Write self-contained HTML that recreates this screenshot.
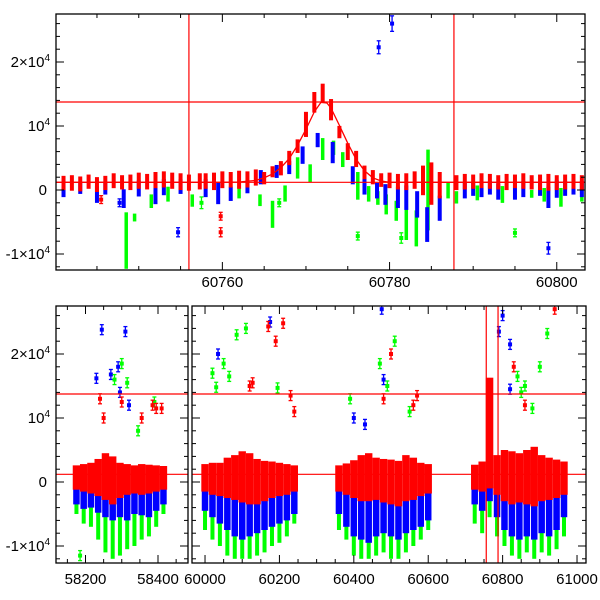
<!DOCTYPE html>
<html><head><meta charset="utf-8">
<style>
html,body{margin:0;padding:0;background:#fff;}
svg{display:block;font-family:"Liberation Sans",sans-serif;}
</style></head>
<body>
<svg id="chart" width="600" height="600" viewBox="0 0 600 600" xmlns="http://www.w3.org/2000/svg">
<defs>
<clipPath id="cTop"><rect x="56" y="14" width="529" height="256"/></clipPath>
<clipPath id="cB1"><rect x="56" y="306" width="132" height="257"/></clipPath>
<clipPath id="cB2"><rect x="192" y="306" width="394" height="257"/></clipPath>
</defs>
<g id="topPanel"></g>
<g id="botPanel"></g>
</svg>
<script>
// ---------- TOP PANEL DATA (nightly streaks: time, low, high) ----------
const topRedT  = [60741,60742,60743,60744,60745,60746,60747,60748,60749,60750,60751,60752,60753,60754,60755,60756,60757.3,60758,60759,60760,60761,60762,60763,60764,60765,60766,60767,60768,60769,60770,60771,60772,60773,60774,60775,60776,60777,60778,60779,60780,60781,60782,60783,60784,60785,60786,60788,60789,60790,60791,60792,60793,60794,60795,60796,60797,60798,60799,60800,60801,60802,60803];
const topRedLo = [300,200,100,500,0,300,600,400,300,500,400,600,700,500,300,200,400,500,300,600,700,500,700,1000,1200,2300,2600,4200,6100,8600,12400,13900,11200,8400,5000,3900,2000,1200,800,600,400,300,500,-500,-2000,-1000,300,400,500,600,500,400,300,600,500,400,300,200,300,400,500,300];
const topRedHi = [1900,2000,1800,2100,1700,1900,2300,2000,2100,2400,2200,2500,2600,2400,2300,2100,2300,2300,2400,2600,2500,2700,2600,2900,2500,3400,4200,5800,7600,11900,15000,16300,13900,9700,7000,5800,3500,2800,2300,2400,2200,2300,2600,3500,4000,2500,2000,2200,2100,2300,2200,2000,2200,2100,2300,2000,2100,2200,2000,2100,2200,2000];
const topBlueT  = [60741,60743,60745,60746,60748.2,60750,60752,60753,60755,60758,60759.5,60761,60763,60764.6,60766.5,60768,60769.6,60771.4,60773.2,60775.6,60777,60778.5,60779.5,60781,60782,60783.3,60784.5,60786,60789,60790,60791,60792,60793,60795,60796,60798,60799,60800,60801,60802,60803];
const topBlueLo = [-800,-300,-1700,-400,-2500,-700,-1900,-500,-300,-800,-1900,-1400,-200,1200,2200,2800,4400,7000,4500,1200,-400,-1000,-2000,-2500,-2800,-4000,-7800,-4500,-1000,-600,-800,-400,-1200,-1200,-800,-600,-2500,-900,-600,-400,-800];
const topBlueHi = [400,800,300,1000,-200,1200,1000,1400,1400,1400,800,200,1200,2800,3600,4200,6500,8600,7200,3400,1500,800,600,200,400,-500,-3000,-1200,800,900,1000,1100,700,1000,1100,900,200,1200,1100,1300,1100];
const topGreenT  = [60748.5,60749.5,60751.5,60753.5,60756.4,60762,60764.5,60766,60767.5,60769,60770.5,60772,60773.3,60774.4,60776.2,60777.5,60778.6,60779.6,60780.8,60782,60783.2,60784.6,60787,60788,60790.5,60793.5,60797,60798.5,60800.5,60803];
const topGreenLo = [-12000,-4600,-2500,-1500,-2300,-1000,-2200,-5600,-1500,2100,1500,5000,5800,3900,-1200,-1500,-2000,-3500,-4500,-7500,-8500,-6000,-1000,-1800,-1300,-1700,-900,-1500,-2300,-1500];
const topGreenHi = [-3800,-4000,-1000,200,-1000,300,-1000,-2000,400,4800,3700,7800,7400,5600,2500,300,-500,-1000,-2000,-2500,-3500,6000,800,-500,400,300,-300,0,0,200];
const topOutT = [60778.7,60780.3,60799,60757.5,60745.5,60747.7,60754.7,60759.8,60759.8,60766.8,60795,60781.4,60776.2];
const topOutV = [22300,26000,-9100,-2000,-1500,-2000,-6600,-6600,-4100,-2000,-6700,-7500,-7200];
const topOutE = [700,900,600,600,300,300,400,400,300,300,300,500,300];
const topOutC = ['blue','blue','blue','green','red','blue','blue','red','red','green','green','green','green'];
const modelT = [60740,60755,60760,60762,60764,60765,60766,60767,60768,60769,60770,60771,60771.8,60772.5,60773,60774,60775,60776,60777,60778,60779,60780,60790,60804];
const modelV = [1200,1200,1200,1250,1500,1900,2500,3500,4900,7000,9500,12200,13700,13600,12800,10100,7300,4800,3000,1900,1400,1200,1200,1200];

// ---------- BOTTOM PANEL DATA (20-day bins) ----------
const binT = [58175,58195,58215,58235,58255,58275,58295,58315,58335,58355,58375,58395,58415,
  60000,60020,60040,60060,60080,60100,60120,60140,60160,60180,60200,60220,60240,
  60360,60380,60400,60420,60440,60460,60480,60500,60520,60540,60560,60580,60600,
  60725,60745,60765,60785,60805,60825,60845,60865,60885,60905,60925,60945,60965];
const redHi = [2600,2800,3000,3600,4500,4000,3000,2800,2600,2800,2700,2600,2500,
  2800,3000,3000,3800,4200,4800,4500,3600,3300,3200,3000,2800,2600,
  2600,2900,3400,4200,4500,3800,3600,3500,3300,4200,3800,3000,2800,
  2700,3200,16300,4200,5000,4800,4500,5000,5500,4200,3800,3500,3200];
const redLo = [-1200,-1500,-1800,-2200,-2800,-3500,-2500,-2000,-1800,-2000,-1800,-1500,-1200,
  -1500,-2000,-2200,-2500,-2800,-3200,-3500,-3500,-3000,-2500,-2200,-2000,-1500,
  -1500,-2000,-2500,-3000,-3000,-2800,-3200,-3500,-3800,-3000,-2800,-2200,-1800,
  -1200,-1500,-1000,-2000,-3000,-3500,-3200,-3500,-3800,-3000,-2800,-2500,-2000];
const blueHi = [500,500,0,500,500,800,500,500,0,500,500,500,500,
  800,500,500,500,800,1000,800,500,500,500,500,500,500,
  500,500,500,800,800,500,500,500,500,500,500,500,500,
  500,500,500,800,500,500,500,500,500,500,500,500,500];
const blueLo = [-3500,-4200,-4000,-4800,-5500,-6000,-5500,-6000,-5000,-5200,-5500,-4500,-3500,
  -4500,-5500,-6500,-7500,-8500,-9000,-8500,-8000,-7500,-7000,-6500,-6000,-5000,
  -5000,-7000,-8500,-9000,-9500,-8500,-8000,-8500,-9000,-8000,-7500,-7000,-6000,
  -3500,-4500,-3000,-5500,-7500,-8500,-9000,-8500,-9000,-8000,-8500,-7500,-5500];
const greenHi = [-2000,-2500,-3000,-3000,-3500,-4000,-3000,-3500,-3500,-3000,-3000,-3000,-2500,
  -3000,-3500,-3500,-4000,-4000,-4500,-4000,-4000,-4000,-3500,-3500,-3000,-3000,
  -3500,-4000,-4500,-4500,-4500,-4000,-4500,-4500,-4500,-4000,-4000,-4000,-3500,
  -2500,-3000,-2000,-3500,-4000,-4500,-4500,-4500,-4500,-4000,-4000,-4000,-3500];
const greenLo = [-5000,-6500,-7000,-9000,-11000,-12000,-11500,-10500,-10000,-9000,-8500,-7000,-5000,
  -7500,-9000,-10000,-11500,-12000,-12000,-12000,-11500,-11000,-10000,-9500,-8500,-6500,
  -7500,-9000,-11500,-12000,-12000,-11500,-11000,-12000,-12000,-11000,-10000,-9000,-7500,
  -6500,-8000,-5500,-8500,-10000,-11500,-12000,-11000,-12000,-11000,-11500,-10500,-8500];
const botOutT = [58230,58245,58270,58290,58310,58295,58320,58280,58300,58315,58390,58345,58240,58250,58300,58355,58385,58395,58410,58185,
  60020,60030,60050,60065,60085,60110,60035,60175,60170,60190,60210,60230,60120,60128,60240,60195,
  60400,60430,60480,60475,60390,60470,60490,60510,60550,60500,60570,60560,60480,
  60790,60800,60820,60820,60840,60860,60900,60920,60850,60880,60830,60940,60860];
const botOutV = [16200,23800,16800,18000,23500,14000,12000,16000,18500,15500,12500,8000,13000,10000,12500,10000,12000,11500,11500,-11500,
  17000,14800,18500,16500,23000,24000,20000,25000,24300,22000,24800,13500,15000,15500,11000,14700,
  10000,9000,16000,27000,13000,18500,15000,22000,11000,20000,13500,12000,13000,
  23500,26000,21500,14500,16500,15000,18000,23200,14000,11500,18000,27000,12000];
const botOutC = ['blue','blue','blue','blue','blue','blue','blue','green','green','green','green','green','red','red','red','red','red','red','red','green',
  'green','green','green','green','green','green','blue','blue','red','red','red','red','red','red','red','green',
  'blue','blue','blue','blue','green','green','green','green','green','red','red','red','red',
  'blue','blue','blue','blue','green','green','green','green','green','green','red','red','red'];

const COL = {red:'#ff0000', blue:'#0000ff', green:'#00ff00'};
const NS = 'http://www.w3.org/2000/svg';
function mk(parent, tag, attrs){ const e=document.createElementNS(NS,tag); for(const k in attrs) e.setAttribute(k,attrs[k]); parent.appendChild(e); return e; }

const X1 = t => 56 + (t - 60740.1) * 8.36;
const Y1 = v => 190 - v * 0.0064;
const XB = t => t < 59000 ? 56 + (t - 58118.6) * 0.3625 : 192 + (t - 59965) * 0.372;
const YB = v => 482 - v * 0.0064;

const topG = document.getElementById('topPanel');
const botG = document.getElementById('botPanel');

function frame(g, x0, x1, y0, y1, Y, xt, name){
  const f = mk(g,'rect',{x:x0,y:y0,width:x1-x0,height:y1-y0,fill:'none',stroke:'#000','stroke-width':1.3});
  
  
  for(let v=-12000; v<=28000; v+=2000){
    const y=Y(v); if(y<y0||y>y1) continue;
    const L = (v%10000===0)?8:4;
    mk(g,'line',{x1:x0,x2:x0+L,y1:y,y2:y,stroke:'#000','stroke-width':1});
    mk(g,'line',{x1:x1-L,x2:x1,y1:y,y2:y,stroke:'#000','stroke-width':1});
  }
  xt.forEach(([x,L])=>{
    if(x<x0||x>x1) return;
    mk(g,'line',{x1:x,x2:x,y1:y1-L,y2:y1,stroke:'#000','stroke-width':1});
    mk(g,'line',{x1:x,x2:x,y1:y0,y2:y0+L,stroke:'#000','stroke-width':1});
  });
}
function ylabels(g, Y){
  const labs=[[20000,'2×10','4'],[10000,'10','4'],[0,'0',''],[-10000,'-1×10','4']];
  labs.forEach(([v,a,s])=>{
    const t = mk(g,'text',{x:50,y:Y(v)+5,'font-size':15,'text-anchor':'end'});
    
    
    t.textContent=a;
    if(s){ const sp=mk(t,'tspan',{'font-size':10,dy:-6}); sp.textContent=s; }
    else { t.setAttribute('x',47); }
  });
}
function errpt(g, x, y, e, c, name){
  const gg = mk(g,'g',{});
  
  
  mk(gg,'line',{x1:x,x2:x,y1:y-e,y2:y+e,stroke:COL[c],'stroke-width':1.3});
  mk(gg,'line',{x1:x-2,x2:x+2,y1:y-e,y2:y-e,stroke:COL[c],'stroke-width':1.3});
  mk(gg,'line',{x1:x-2,x2:x+2,y1:y+e,y2:y+e,stroke:COL[c],'stroke-width':1.3});
  mk(gg,'rect',{x:x-2,y:y-2,width:4,height:4,fill:COL[c]});
}

// ---------- TOP PANEL ----------
const tc = mk(topG,'g',{'clip-path':'url(#cTop)'});
function streaks(g, T, LO, HI, c, X, Y, w, name){
  T.forEach((t,i)=>{
    const y1=Y(HI[i]), y2=Y(LO[i]);
    const r = mk(g,'rect',{x:X(t)-w/2,y:y1-2,width:w,height:Math.max(4,y2-y1+4),fill:COL[c]});
    
    
  });
}
streaks(tc, topGreenT, topGreenLo, topGreenHi, 'green', X1, Y1, 3.5, 'green-night');
streaks(tc, topBlueT, topBlueLo, topBlueHi, 'blue', X1, Y1, 4, 'blue-night');
streaks(tc, topRedT, topRedLo, topRedHi, 'red', X1, Y1, 4, 'red-night');
topOutT.forEach((t,i)=> errpt(tc, X1(t), Y1(topOutV[i]), topOutE[i]*0.0064+2, topOutC[i], 'outlier-point'));
const mpath = modelT.map((t,i)=>(i?'L':'M')+X1(t).toFixed(1)+','+Y1(modelV[i]).toFixed(1)).join(' ');
const mp = mk(tc,'path',{d:mpath,fill:'none',stroke:'#ff0000','stroke-width':1.3});


[13750,1200].forEach(v=>{ const l=mk(topG,'line',{x1:56,x2:585,y1:Y1(v),y2:Y1(v),stroke:'#ff0000','stroke-width':1.2});   });
[60756,60787.7].forEach(t=>{ const l=mk(topG,'line',{x1:X1(t),x2:X1(t),y1:14,y2:270,stroke:'#ff0000','stroke-width':1.2});   });
const xt1=[]; for(let t=60740; t<=60805; t+=5) xt1.push([X1(t), t%20===0?8:4]);
frame(topG,56,585,14,270,Y1,xt1,'top-frame');
ylabels(topG,Y1);
[60760,60780,60800].forEach(t=>{ const tx=mk(topG,'text',{x:X1(t),y:287,'font-size':15,'text-anchor':'middle'});   tx.textContent=t; });

// ---------- BOTTOM PANEL ----------
[['cB1',t=>t<59000],['cB2',t=>t>59000]].forEach(([cid,sel])=>{
  const g = mk(botG,'g',{'clip-path':'url(#'+cid+')'});
  const draw=(LO,HI,c,w,name)=>binT.forEach((t,i)=>{
    if(!sel(t)) return;
    const y1=YB(HI[i]), y2=YB(LO[i]);
    const r=mk(g,'rect',{x:XB(t)-w/2,y:y1,width:w,height:y2-y1,fill:COL[c]});
    
    
  });
  draw(greenLo,greenHi,'green',4,'green-bin');
  draw(blueLo,blueHi,'blue',6.5,'blue-bin');
  draw(redLo,redHi,'red',7.4,'red-bin');
  botOutT.forEach((t,i)=>{ if(sel(t)) errpt(g, XB(t), YB(botOutV[i]), 5, botOutC[i], 'outlier-point'); });
});
[[56,188],[192,586]].forEach(([a,b])=>{
  [13750,1200].forEach(v=>{ const l=mk(botG,'line',{x1:a,x2:b,y1:YB(v),y2:YB(v),stroke:'#ff0000','stroke-width':1.2});   });
});
[60756,60787.7].forEach(t=>{ const l=mk(botG,'line',{x1:XB(t),x2:XB(t),y1:306,y2:563,stroke:'#ff0000','stroke-width':1.2});   });
const xtb1=[]; for(let t=58150; t<=58450; t+=50) xtb1.push([XB(t), t%200===0?8:4]);
const xtb2=[]; for(let t=60000; t<=61000; t+=50) xtb2.push([XB(t), t%200===0?8:4]);
frame(botG,56,188,306,563,YB,xtb1,'bottom-frame-left');
frame(botG,192,586,306,563,YB,xtb2,'bottom-frame-right');
ylabels(botG,YB);
[58200,58400,60000,60200,60400,60600,60800,61000].forEach(t=>{
  const tx=mk(botG,'text',{x:XB(t),y:584,'font-size':15,'text-anchor':'middle'});
  
  
  tx.textContent=t;
});
</script>
</body></html>
